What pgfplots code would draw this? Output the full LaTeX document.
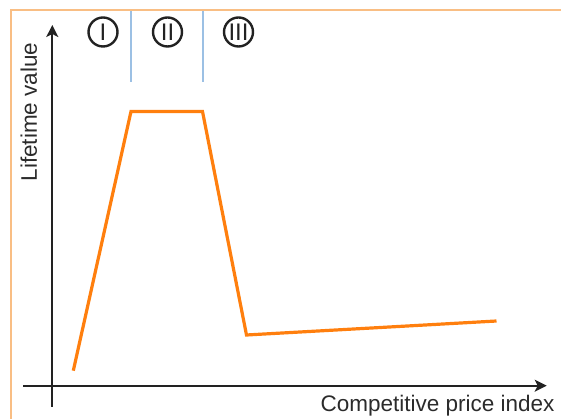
\documentclass[border=0pt]{standalone}
\usepackage{fontspec}
\setmainfont{Liberation Sans}
\usepackage{pgfplots}
\pgfplotsset{compat=1.18}
\usetikzlibrary{arrows.meta}
\definecolor{lineorange}{HTML}{FF7F0E}
\definecolor{frameorange}{HTML}{F9BE84}
\definecolor{sepblue}{HTML}{9CC0E4}
\definecolor{axisgray}{HTML}{222222}
\definecolor{txtgray}{HTML}{2B2B2B}
\tikzset{phase/.style={circle, draw=axisgray, line width=2.4pt, minimum size=29pt, inner sep=0pt,
        text=axisgray, font=\fontsize{24}{26}\selectfont}}
\begin{document}
\begin{tikzpicture}
\begin{axis}[
  x=1pt, y=1pt,
  axis lines=middle,
  xmin=-29.3, xmax=494.4,
  ymin=-21.3, ymax=360.7,
  xtick=\empty, ytick=\empty,
  axis line style={line width=2pt, axisgray, -{Stealth[length=12pt,width=12pt,inset=3pt]}},
  clip=false,
]
\addplot[lineorange, line width=3.2pt, line join=miter] coordinates {
  (21,15) (78.7,274.2) (150.2,274.2) (194.2,50.7) (444.2,64.7)
};
% separators between phases
\draw[sepblue, line width=1.2pt] (axis cs:78.7,374.7) -- (axis cs:78.7,303.7);
\draw[sepblue, line width=1.2pt] (axis cs:150.7,374.7) -- (axis cs:150.7,303.7);
% phase labels
\node[phase] at (axis cs:50.7,353.7) {I};
\node[phase] at (axis cs:115.2,353.7) {II};
\node[phase] at (axis cs:186.2,353.7) {III};
% axis labels
\node[rotate=90, anchor=base west, text=txtgray, font=\fontsize{22.5}{26}\selectfont]
  at (axis cs:-15.3,200.7) {Lifetime value};
\node[anchor=base east, text=txtgray, font=\fontsize{22.5}{26}\selectfont]
  at (axis cs:505.7,-26.3) {Competitive price index};
% frame
\draw[frameorange, line width=2pt] (axis cs:508.7,375.7) -- (axis cs:-41.3,375.7) -- (axis cs:-41.3,-33.3);
\coordinate (bl) at (axis cs:-52.3,-33.3);
\coordinate (tr) at (axis cs:508.7,385.7);
\end{axis}
\pgfresetboundingbox
\useasboundingbox (bl) rectangle (tr);
\end{tikzpicture}
\end{document}
